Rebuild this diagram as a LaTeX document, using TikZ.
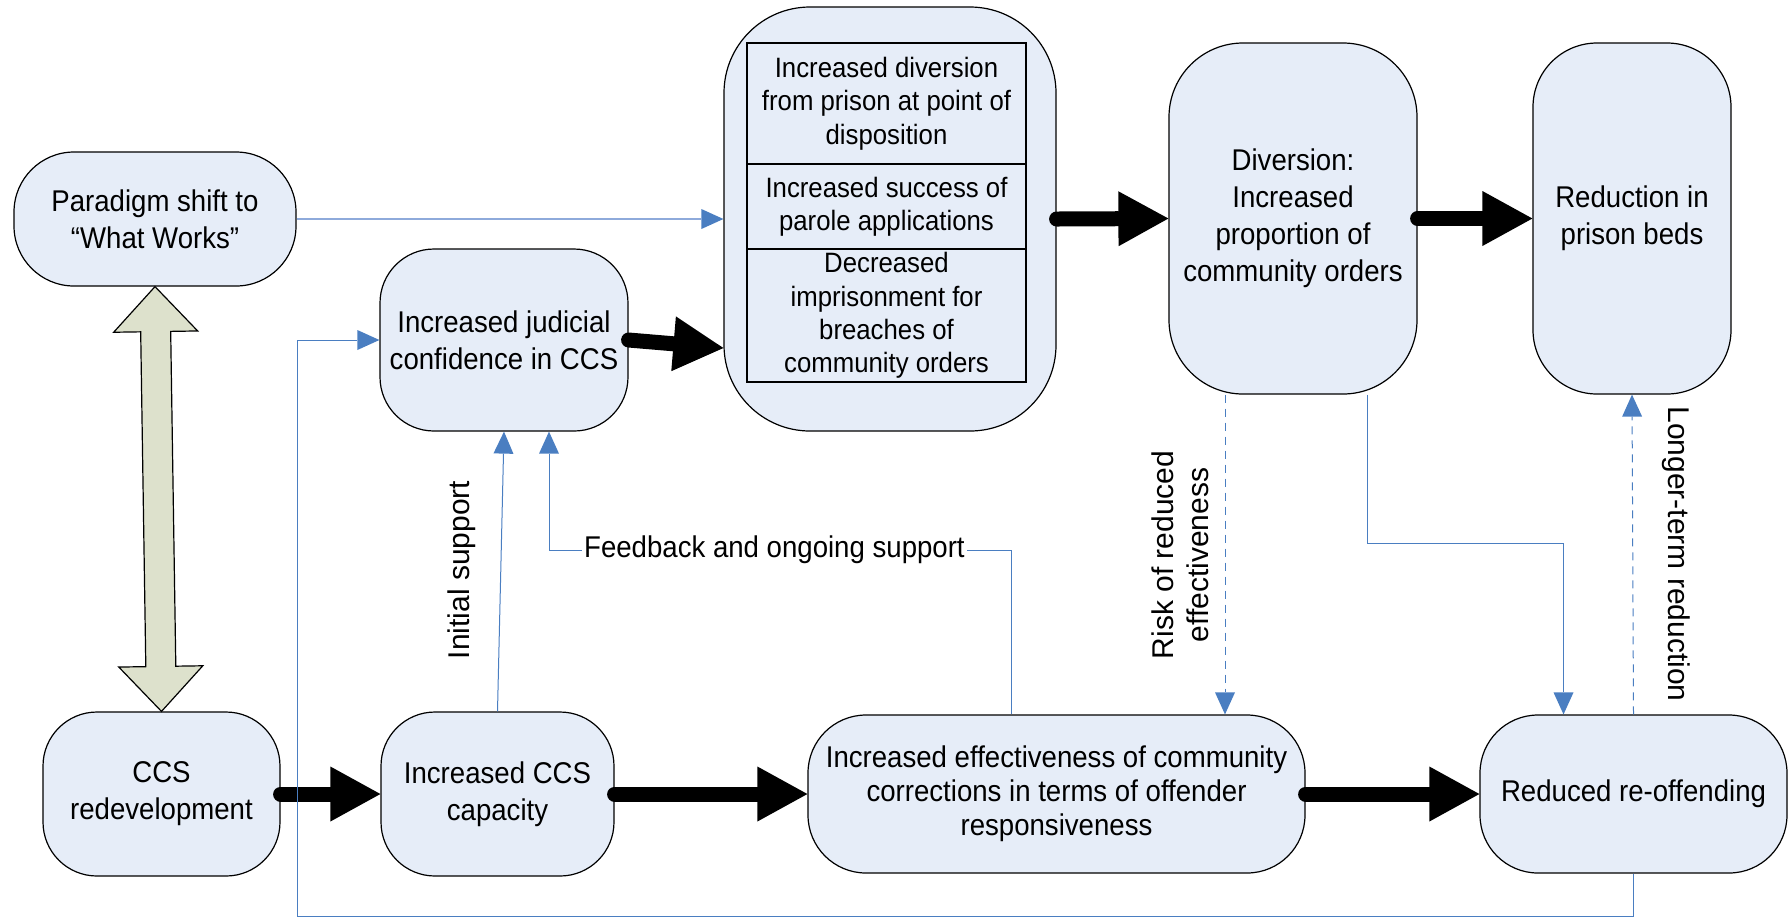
\documentclass[tikz,border=0pt]{standalone}
\usepackage{fontspec}
\setmainfont{Liberation Sans}
\newfontfamily\boxfont{Liberation Sans}[FakeStretch=0.92]
\usetikzlibrary{arrows.meta,calc}

\definecolor{boxfill}{RGB}{230,237,248}
\definecolor{linkblue}{RGB}{74,126,193}
\definecolor{linklight}{RGB}{142,170,219}
\definecolor{shaftfill}{RGB}{221,225,204}

\tikzset{
  proc/.style={draw=black, line width=0.6pt, fill=boxfill, inner sep=0pt, align=center,
               font=\boxfont\fontsize{15}{18.5}\selectfont},
  cell/.style={draw=black, line width=0.7pt, inner sep=0pt, align=center, minimum width=139.5pt,
               font=\boxfont\fontsize{14}{16.7}\selectfont},
  bigflow/.style={line width=7.5pt, line cap=round,
                  -{Triangle[length=25pt,width=27.5pt,line width=0pt]}},
  link/.style={draw=linkblue, line width=0.5pt,
               -{Triangle[length=11pt,width=10pt,line width=0pt,color=linkblue]}},
  dashedlink/.style={link, dash pattern=on 4pt off 3pt},
  vlabel/.style={font=\fontsize{15}{17.5}\selectfont, align=center, inner sep=0pt},
}

\begin{document}
\begin{tikzpicture}[x=0.5pt,y=-0.5pt]
\useasboundingbox (0,0) rectangle (1789,918);

% process boxes
\node[proc, minimum width=141pt, minimum height=67pt, rounded corners=30pt] (paradigm) at (155,219) {Paradigm shift to\\“What Works”};
\node[proc, minimum width=124pt, minimum height=91pt, rounded corners=27pt] (judicial) at (504,340) {Increased judicial\\confidence in CCS};
\node[proc, minimum width=166pt, minimum height=212pt, rounded corners=43pt] (bigbox) at (890,219) {};
\node[cell, minimum height=60.5pt] (c1) at (886.5,103.5) {Increased diversion\\from prison at point of\\disposition};
\node[cell, minimum height=42.5pt] (c2) at (886.5,206.5) {Increased success of\\parole applications};
\node[cell, minimum height=66.5pt] (c3) at (886.5,315.5) {Decreased\\imprisonment for\\breaches of\\community orders};
\node[proc, minimum width=124pt, minimum height=175.5pt, rounded corners=37pt] (diversion) at (1293,218.5) {Diversion:\\Increased\\proportion of\\community orders};
\node[proc, minimum width=99pt, minimum height=175.5pt, rounded corners=32pt] (reduction) at (1632,218.5) {Reduction in\\prison beds};
\node[proc, minimum width=118.5pt, minimum height=82pt, rounded corners=27pt] (ccs) at (161.5,794) {CCS\\redevelopment};
\node[proc, minimum width=116.5pt, minimum height=82pt, rounded corners=27pt] (capacity) at (497.5,794) {Increased CCS\\capacity};
\node[proc, minimum width=248.5pt, minimum height=79pt, rounded corners=29pt,
      font=\boxfont\fontsize{15}{17}\selectfont] (effect) at (1056.5,794) {Increased effectiveness of community\\corrections in terms of offender\\responsiveness};
\node[proc, minimum width=153.5pt, minimum height=79pt, rounded corners=29pt] (reduced) at (1633.5,794) {Reduced re-offending};

% two-headed link between the paradigm shift and the redevelopment
\coordinate (dA) at (paradigm.south);
\coordinate (dB) at (ccs.north);
\path ($(dA)!22.5pt!(dB)$) coordinate (hA) ($(dB)!22.5pt!(dA)$) coordinate (hB);
\draw[fill=shaftfill, line width=0.6pt, line join=miter]
  (dA) -- ($(hA)!21pt!90:(dB)$) -- ($(hA)!7.5pt!90:(dB)$) -- ($(hB)!7.5pt!-90:(dA)$)
  -- ($(hB)!21pt!-90:(dA)$) -- (dB) -- ($(hB)!21pt!90:(dA)$) -- ($(hB)!7.5pt!90:(dA)$)
  -- ($(hA)!7.5pt!-90:(dB)$) -- ($(hA)!21pt!-90:(dB)$) -- cycle;

% main causal chain
\draw[bigflow] (ccs.east) -- (capacity.west);
\draw[bigflow] (capacity.east) -- (effect.west);
\draw[bigflow] (effect.east) -- (reduced.west);
\draw[bigflow] (judicial.east) -- ($(bigbox.west |- judicial.east)+(0,8)$);
\draw[bigflow] (bigbox.east) -- (diversion.west);
\draw[bigflow] (diversion.east) -- (reduction.west);

% thin links
\draw[link, draw=linklight, line width=1pt] (paradigm.east) -- (bigbox.west);
\draw[link] (capacity.north) -- (judicial.south);

\coordinate (fbR) at (1011,550);
\coordinate (fbL) at (549,550);
\draw[link] (effect.north -| fbR) -- (fbR)
  -- node[pos=0.512, fill=white, inner xsep=1pt, inner ysep=1pt,
          font=\boxfont\fontsize{15}{18}\selectfont] (fblbl) {Feedback and ongoing support} (fbL)
  -- (judicial.south -| fbL);

\coordinate (riskx) at (1225,0);
\draw[dashedlink] (diversion.south -| riskx) -- (effect.north -| riskx);

\coordinate (divR) at (1367,543);
\coordinate (redT) at (1563.5,543);
\draw[link] (diversion.south -| divR) -- (divR) -- (redT) -- (reduced.north -| redT);

\draw[dashedlink] (reduced.north) -- (reduction.south);

\coordinate (loopL) at (297,916);
\draw[link] (reduced.south) |- (loopL) |- (judicial.west);

% link labels
\node[vlabel, rotate=90] (initlbl) at (462,570) {Initial support};
\node[vlabel, rotate=90] (risklbl) at (1180,555) {Risk of reduced\\effectiveness};
\node[vlabel, rotate=-90] (longlbl) at (1676,554) {Longer-term reduction};
\end{tikzpicture}
\end{document}
